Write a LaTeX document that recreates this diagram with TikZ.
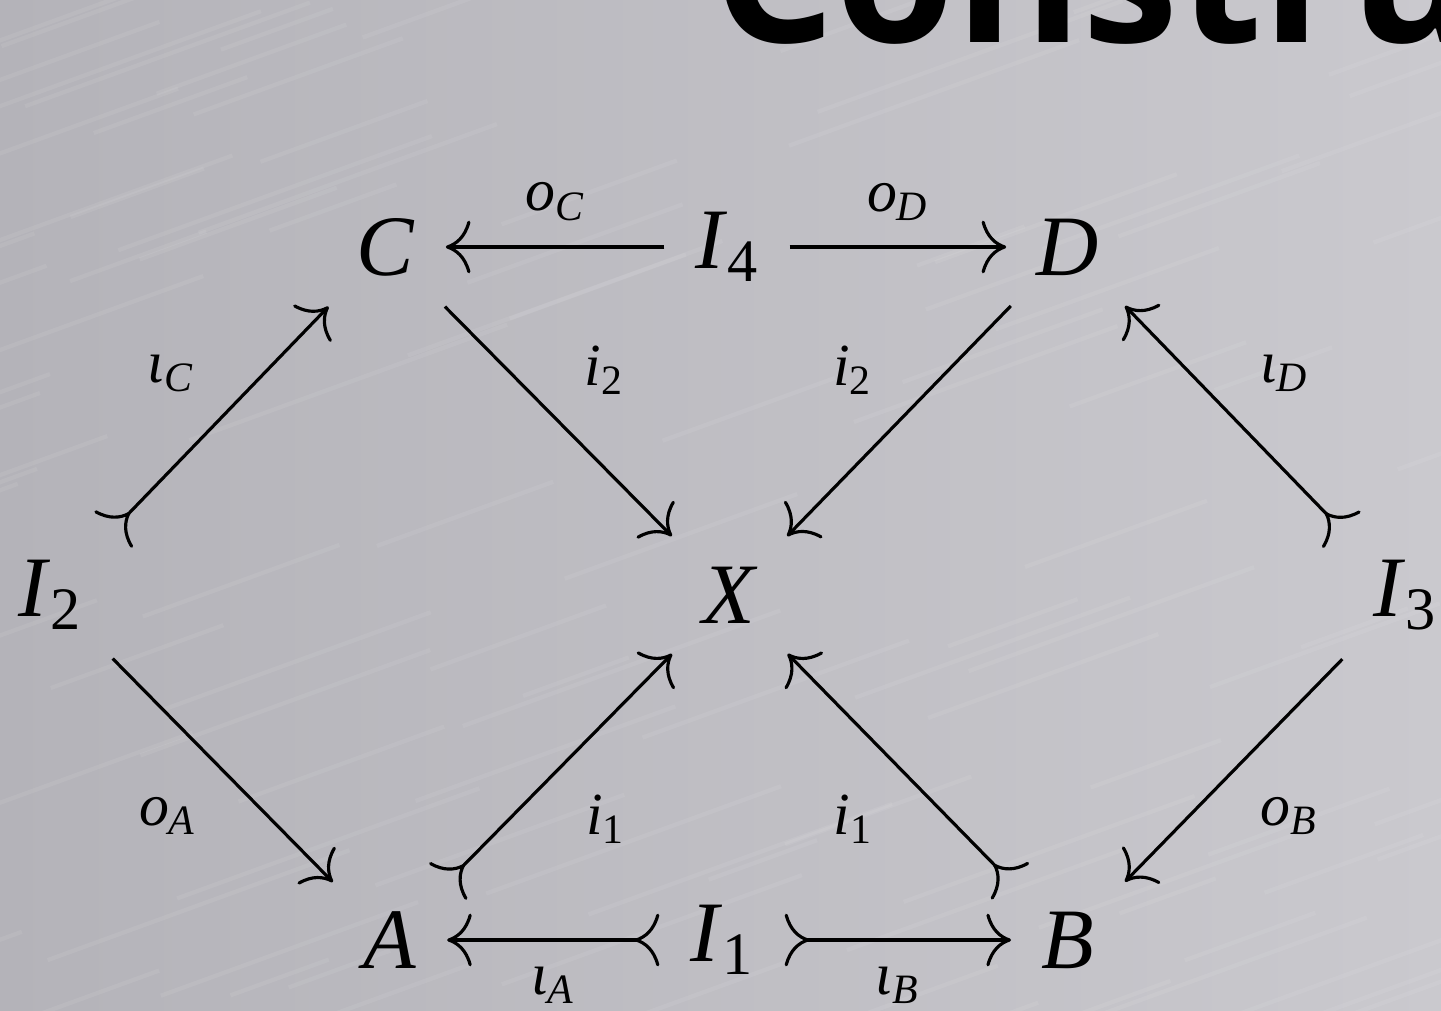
\documentclass[tikz,border=0pt]{standalone}
\usepackage{fontspec}
\setmainfont{Liberation Serif}
\newfontfamily\titlefont{Open Sans}
\usetikzlibrary{arrows.meta, positioning}
\definecolor{metaldark}{HTML}{B4B3B9}
\definecolor{metallight}{HTML}{CAC9CE}
\newcommand{\symb}[2]{\textit{#1}\textsubscript{#2}}
\tikzset{
    obj/.style={inner sep=0.3cm, font=\fontsize{24.5}{30}\selectfont},
    lbl/.style={inner sep=0.25cm, font=\fontsize{17}{20}\selectfont},
    mapto/.style={-{Computer Modern Rightarrow[length=7pt, width=15pt]}, line width=0.9pt},
    monoto/.style={{Computer Modern Rightarrow[length=7pt, width=15pt, reversed]}-{Computer Modern Rightarrow[length=7pt, width=15pt]}, line width=0.9pt},
    streak/.style={white, line width=1.2pt, opacity=0.07},
}

\begin{document}
\begin{tikzpicture}

\useasboundingbox (0,0) rectangle (14.41,10.10);
\clip (0,0) rectangle (14.41,10.10);
\shade[left color=metaldark, right color=metallight] (0,0) rectangle (14.41,10.10);

% brushed look
\pgfmathsetseed{7}
\foreach \k in {1,...,110}{
    \pgfmathsetmacro{\sx}{-3+17*rnd}
    \pgfmathsetmacro{\sy}{-1+11*rnd}
    \pgfmathsetmacro{\sl}{1+2.5*rnd}
    \draw[streak] (\sx,\sy) -- ++(20:\sl);
}

% title, cut by the top edge
\node[anchor=base west, inner sep=0pt, font=\titlefont\bfseries\fontsize{55}{60}\selectfont] (title) at (7.12, 9.67) {Constru};

% objects
\node[obj] (C)  at (3.86, 7.63) {\textit{C}};
\node[obj] (I4) at (7.27, 7.63) {\symb{I}{4}};
\node[obj] (D)  at (10.68, 7.63) {\textit{D}};
\node[obj] (I2) at (0.50, 4.15) {\symb{I}{2}};
\node[obj] (X)  at (7.30, 4.15) {\textit{X}};
\node[obj] (I3) at (14.05, 4.15) {\symb{I}{3}};
\node[obj] (A)  at (3.90, 0.70) {\textit{A}};
\node[obj] (I1) at (7.22, 0.70) {\symb{I}{1}};
\node[obj] (B)  at (10.68, 0.70) {\textit{B}};

% top row
\draw[mapto] (I4) -- node[lbl, above] {\symb{o}{\itshape C}} (C);
\draw[mapto] (I4) -- node[lbl, above] {\symb{o}{\itshape D}} (D);

% left and right sides
\draw[monoto] (I2) -- node[lbl, above left] {\symb{ι}{\itshape C}} (C);
\draw[mapto] (I2) -- node[lbl, below left] {\symb{o}{\itshape A}} (A);
\draw[monoto] (I3) -- node[lbl, above right] {\symb{ι}{\itshape D}} (D);
\draw[mapto] (I3) -- node[lbl, below right] {\symb{o}{\itshape B}} (B);

% into X
\draw[mapto] (C) -- node[lbl, above right] {\symb{i}{2}} (X);
\draw[mapto] (D) -- node[lbl, above left] {\symb{i}{2}} (X);
\draw[monoto] (A) -- node[lbl, below right] {\symb{i}{1}} (X);
\draw[monoto] (B) -- node[lbl, below left] {\symb{i}{1}} (X);

% bottom row
\draw[monoto] (I1) -- node[lbl, below] {\symb{ι}{\itshape A}} (A);
\draw[monoto] (I1) -- node[lbl, below] {\symb{ι}{\itshape B}} (B);

\end{tikzpicture}
\end{document}
